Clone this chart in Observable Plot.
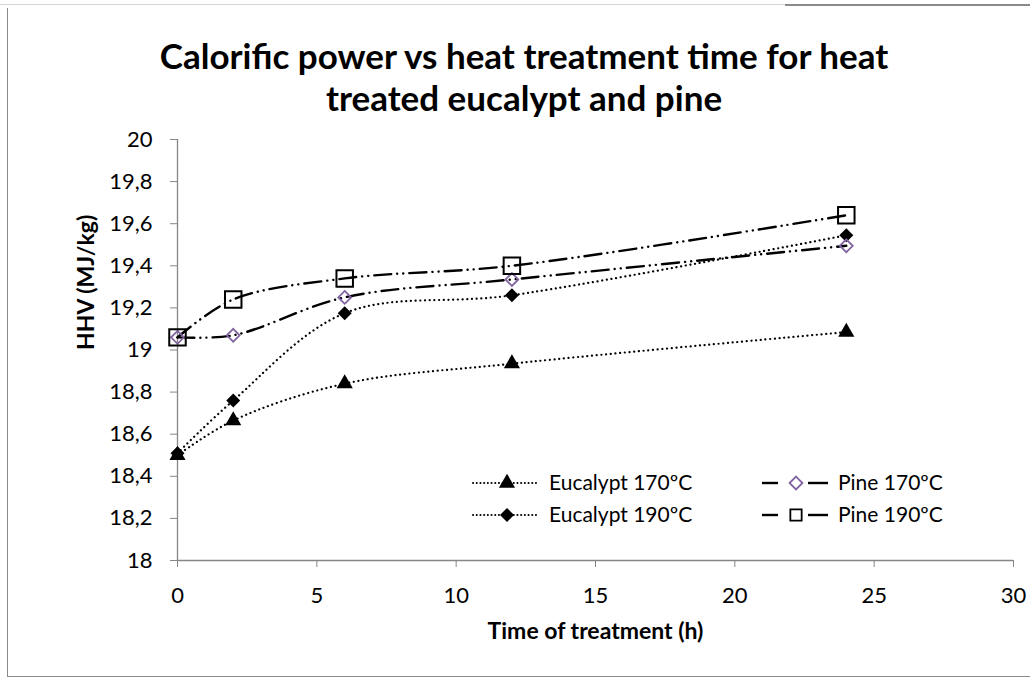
<!DOCTYPE html>
<html>
<head>
<meta charset="utf-8">
<script src="https://cdn.jsdelivr.net/npm/d3@7"></script>
<script src="https://cdn.jsdelivr.net/npm/@observablehq/plot@0.6"></script>
<style>
  html, body { margin: 0; padding: 0; background: #fff; }
  #wrap { position: relative; width: 1030px; height: 678px; overflow: hidden; font-family: Lato, "DejaVu Sans", sans-serif; }
  #title { position: absolute; left: 9px; top: 0; width: 1030px; height: 120px; box-sizing: border-box; padding-top: 34px;
           text-align: center; font-weight: bold; font-size: 35px; line-height: 42px; color: #000; }
  #chart { position: absolute; left: 0; top: 120px; }
  .ln { position: absolute; }
</style>
</head>
<body>
<div id="wrap">
  <div class="ln" style="left:0;top:4px;width:785px;height:1px;background:#d6d6d6"></div>
  <div class="ln" style="left:785px;top:4px;width:245px;height:2px;background:#8a8a8a"></div>
  <div class="ln" style="left:7px;top:8px;width:1px;height:669px;background:#8a8a8a"></div>
  <div class="ln" style="left:7px;top:676px;width:1023px;height:1px;background:#8a8a8a"></div>
  <div id="title">Calorific power vs heat treatment time for heat<br>treated eucalypt and pine</div>
  <div id="chart"></div>
</div>
<script>
// ---- data ----
const time = [0, 2, 6, 12, 24];
const euc170 = [18.50, 18.665, 18.84, 18.935, 19.085];
const euc190 = [18.51, 18.76, 19.175, 19.26, 19.545];
const pine170 = [19.06, 19.07, 19.25, 19.335, 19.495];
const pine190 = [19.06, 19.24, 19.34, 19.40, 19.64];
const seriesNames = ["Eucalypt 170ºC", "Eucalypt 190ºC", "Pine 170ºC", "Pine 190ºC"];
const xTicks = [0, 5, 10, 15, 20, 25, 30];
const yTicks = [18, 18.2, 18.4, 18.6, 18.8, 19, 19.2, 19.4, 19.6, 19.8, 20];
const xTitle = "Time of treatment (h)";
const yTitle = "HHV (MJ/kg)";

const rows = (vals) => time.map((t, i) => ({time: t, value: vals[i]}));
const dE170 = rows(euc170), dE190 = rows(euc190), dP170 = rows(pine170), dP190 = rows(pine190);

const axisGray = "#868686";
const purple = "#8064a2";
const dotDash = "0.1 4.6";
const pineDash = "17 6 0.1 6 0.1 6";
const font = "Lato, 'DejaVu Sans', sans-serif";

const euLine = (d) => Plot.line(d, {x: "time", y: "value", curve: "catmull-rom", stroke: "black", strokeWidth: 2.2, strokeDasharray: dotDash, strokeLinecap: "round"});
const piLine = (d) => Plot.line(d, {x: "time", y: "value", curve: "catmull-rom", stroke: "black", strokeWidth: 2.4, strokeDasharray: pineDash, strokeLinecap: "round"});

const chart = Plot.plot({
  width: 1030,
  height: 558,
  marginTop: 19,
  marginLeft: 177,
  marginRight: 17,
  marginBottom: 118,
  style: {fontFamily: font, fontSize: "22px", color: "#000", background: "transparent", overflow: "visible"},
  x: {domain: [0, 30]},
  y: {domain: [18, 20]},
  marks: [
    Plot.axisY({ticks: yTicks, tickSize: 7, tickPadding: 18, stroke: axisGray, fill: "black", label: null,
                tickFormat: d => String(+d.toFixed(1)).replace(".", ",")}),
    Plot.axisX({ticks: xTicks, tickSize: 7, tickPadding: 20, stroke: axisGray, fill: "black", label: null}),
    Plot.ruleX([0], {stroke: axisGray, strokeWidth: 1.3}),
    Plot.ruleY([18], {stroke: axisGray, strokeWidth: 1.3}),
    euLine(dE170),
    euLine(dE190),
    piLine(dP170),
    piLine(dP190),
    Plot.dot(dE170, {x: "time", y: "value", symbol: "triangle", r: 6, fill: "black"}),
    Plot.dot(dE190, {x: "time", y: "value", symbol: "diamond2", r: 6.3, fill: "black"}),
    Plot.dot(dP170, {x: "time", y: "value", symbol: "diamond2", r: 5.8, fill: "none", stroke: purple, strokeWidth: 1.8}),
    Plot.dot(dP190, {x: "time", y: "value", symbol: "square", r: 9.3, fill: "none", stroke: "black", strokeWidth: 2}),
    Plot.text([yTitle], {frameAnchor: "left", dx: -91, rotate: -90, fontWeight: "bold", fontSize: 23}),
    Plot.text([xTitle], {frameAnchor: "bottom", dy: 78, fontWeight: "bold", fontSize: 23})
  ]
});
document.getElementById("chart").appendChild(chart);

// ---- legend (overlay) ----
const ns = "http://www.w3.org/2000/svg";
const leg = document.createElementNS(ns, "svg");
leg.setAttribute("width", 1030);
leg.setAttribute("height", 678);
leg.style.position = "absolute"; leg.style.left = "0"; leg.style.top = "0";
document.getElementById("wrap").appendChild(leg);
const entries = [
  {name: seriesNames[0], col: 0, row: 0, kind: "eu", sym: d3.symbolTriangle, r: 6, fill: "black", stroke: "none"},
  {name: seriesNames[2], col: 1, row: 0, kind: "pi", sym: d3.symbolDiamond2, r: 5.8, fill: "none", stroke: purple},
  {name: seriesNames[1], col: 0, row: 1, kind: "eu", sym: d3.symbolDiamond2, r: 6.3, fill: "black", stroke: "none"},
  {name: seriesNames[3], col: 1, row: 1, kind: "pi", sym: d3.symbolSquare2, r: 7.2, fill: "none", stroke: "black"}
];
const colX = [473, 762];
const rowY = [483, 515];
const g = d3.select(leg);
for (const e of entries) {
  const x0 = colX[e.col], y = rowY[e.row];
  const cx = x0 + 34;
  if (e.kind === "eu") {
    g.append("line").attr("x1", x0).attr("x2", x0 + 66).attr("y1", y).attr("y2", y)
      .attr("stroke", "black").attr("stroke-width", 2).attr("stroke-dasharray", "0.1 3.6").attr("stroke-linecap", "round");
  } else {
    g.append("line").attr("x1", x0).attr("x2", x0 + 16).attr("y1", y).attr("y2", y).attr("stroke", "black").attr("stroke-width", 2.4);
    g.append("line").attr("x1", x0 + 46).attr("x2", x0 + 66).attr("y1", y).attr("y2", y).attr("stroke", "black").attr("stroke-width", 2.4);
  }
  g.append("path").attr("transform", `translate(${cx},${y})`)
    .attr("d", d3.symbol(e.sym, e.r * e.r * Math.PI)())
    .attr("fill", e.fill).attr("stroke", e.stroke).attr("stroke-width", e.kind === "pi" ? 1.8 : 0);
  g.append("text").attr("x", x0 + 76).attr("y", y).attr("dy", "0.35em")
    .attr("font-family", font).attr("font-size", 21).attr("fill", "black").text(e.name);
}
</script>
</body>
</html>
